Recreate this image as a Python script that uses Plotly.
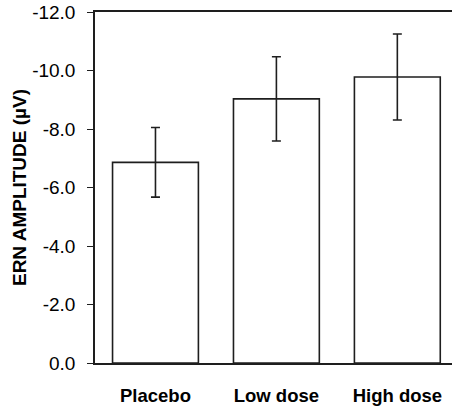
import plotly.graph_objects as go

categories = ["Placebo", "Low dose", "High dose"]
ern_mean = [-6.86, -9.03, -9.78]
ern_err = [1.19, 1.44, 1.47]
y_tickvals = [0, -2, -4, -6, -8, -10, -12]
y_ticktext = ["0.0", "-2.0", "-4.0", "-6.0", "-8.0", "-10.0", "-12.0"]

line_col = "#1e1e1e"
font_fam = "Liberation Sans, Arial, sans-serif"

fig = go.Figure()
fig.add_trace(go.Bar(
    x=categories,
    y=ern_mean,
    width=0.71,
    marker=dict(color="white", line=dict(color=line_col, width=1.6)),
    error_y=dict(type="data", array=ern_err, visible=True,
                 color=line_col, thickness=1.6, width=4.5),
))

fig.update_layout(
    width=452, height=406,
    margin=dict(l=94.5, r=0, t=12, b=38.7),
    plot_bgcolor="white", paper_bgcolor="white",
    showlegend=False,
    font=dict(family=font_fam, color="black"),
    xaxis=dict(
        range=[-0.5, 2.452],
        showline=True, linecolor=line_col, linewidth=1.5, mirror=True,
        ticks="", showgrid=False, zeroline=False,
        tickfont=dict(size=18.5, weight="bold", family=font_fam),
        ticklabelstandoff=15,
    ),
    yaxis=dict(
        range=[0, -12],
        tickvals=y_tickvals, ticktext=y_ticktext,
        showline=True, linecolor=line_col, linewidth=1.5,
        ticks="outside", ticklen=6, tickwidth=1.2, tickcolor=line_col,
        showgrid=False, zeroline=False,
        tickfont=dict(size=19, family=font_fam),
        ticklabelstandoff=8,
        title=dict(text="ERN AMPLITUDE (µV)", font=dict(size=19, weight="bold", family=font_fam), standoff=0),
    ),
)

fig.write_html("out.html")
